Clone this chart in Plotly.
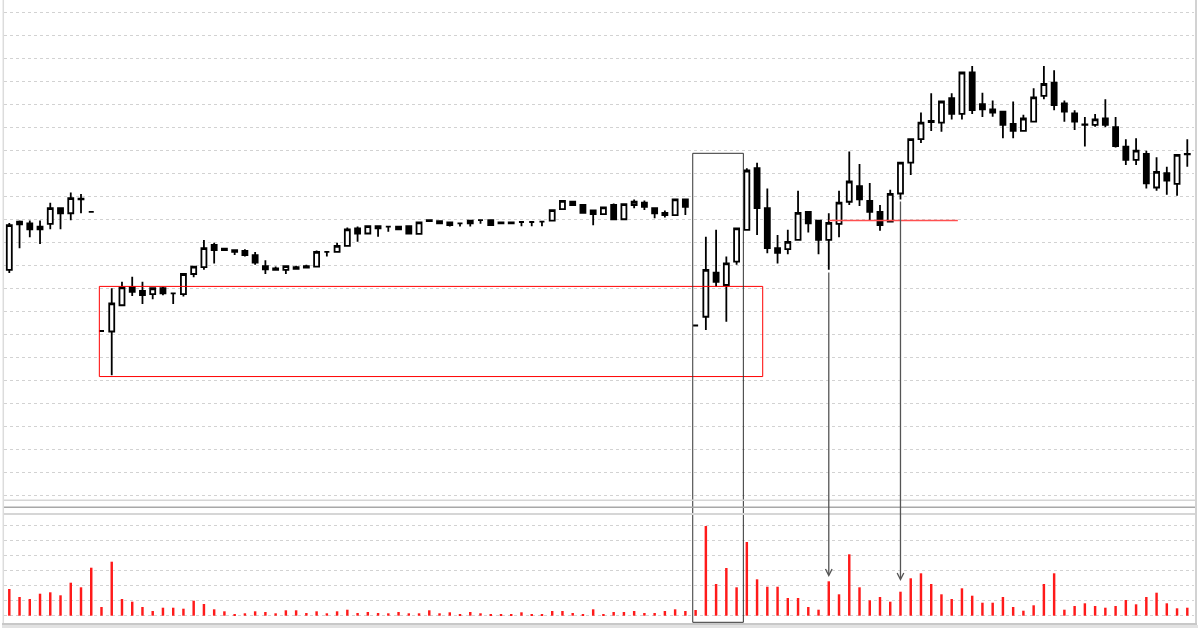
import plotly.graph_objects as go

# ---------------- data ----------------
idx = list(range(116))

open_ = [9.91, 10.90, 10.92, 10.79, 10.91, 11.25, 11.14, 11.44, 11.17, 8.58,
         8.57, 9.14, 9.54, 9.45, 9.38, 9.51, 9.40, 9.38, 9.82, 9.97,
         10.45, 10.37, 10.34, 10.32, 10.23, 9.99, 9.94, 9.91, 9.97, 9.99,
         9.98, 10.30, 10.30, 10.43, 10.81, 10.70, 10.81, 10.85, 10.85, 10.86,
         10.69, 10.99, 10.97, 10.94, 10.92, 10.92, 10.99, 10.99, 10.94, 10.94,
         10.95, 10.95, 10.96, 10.98, 11.23, 11.39, 11.32, 11.20, 11.12, 11.32,
         11.01, 11.32, 11.37, 11.25, 11.15, 11.10, 11.44, 8.70, 8.89, 9.85,
         9.58, 10.09, 10.78, 12.12, 11.25, 10.38, 10.36, 10.56, 11.17, 10.98,
         10.56, 10.91, 11.39, 11.73, 11.41, 11.17, 10.96, 11.57, 12.24, 12.75,
         13.12, 13.11, 13.64, 13.30, 14.20, 13.51, 13.40, 13.35, 13.08, 12.93,
         13.13, 13.69, 13.98, 13.53, 13.31, 13.06, 13.06, 13.20, 13.01, 12.59,
         12.30, 12.43, 11.70, 12.01, 11.78, 12.42]

high = [10.93, 10.98, 10.98, 10.98, 11.37, 11.25, 11.59, 11.56, 11.17, 8.58,
        9.51, 9.65, 9.76, 9.65, 9.51, 9.54, 9.40, 9.82, 9.98, 10.56,
        10.50, 10.37, 10.34, 10.36, 10.30, 10.12, 9.98, 9.99, 10.00, 10.02,
        10.33, 10.30, 10.50, 10.83, 10.85, 10.86, 10.86, 10.85, 10.85, 10.86,
        10.94, 10.99, 10.97, 10.94, 10.92, 10.98, 10.99, 10.99, 10.94, 10.94,
        10.95, 10.95, 10.96, 11.21, 11.41, 11.41, 11.32, 11.20, 11.27, 11.35,
        11.34, 11.44, 11.42, 11.25, 11.20, 11.44, 11.44, 8.70, 10.63, 10.78,
        10.20, 10.81, 12.12, 12.24, 11.68, 10.67, 10.78, 11.63, 11.17, 10.98,
        11.14, 11.63, 12.48, 12.21, 11.80, 11.32, 11.65, 12.24, 12.75, 13.33,
        13.75, 13.57, 13.75, 14.20, 14.34, 13.76, 13.59, 13.35, 13.57, 13.28,
        13.86, 14.34, 14.25, 13.59, 13.38, 13.23, 13.30, 13.62, 13.23, 12.75,
        12.77, 12.50, 12.36, 12.15, 12.41, 12.75]

low = [9.84, 10.38, 10.62, 10.47, 10.79, 10.79, 10.99, 11.14, 11.17, 8.58,
       7.62, 9.14, 9.34, 9.17, 9.27, 9.36, 9.17, 9.33, 9.75, 9.91,
       10.05, 10.34, 10.23, 10.20, 10.02, 9.82, 9.91, 9.82, 9.91, 9.94,
       9.98, 10.20, 10.28, 10.41, 10.52, 10.70, 10.63, 10.74, 10.79, 10.70,
       10.69, 10.97, 10.92, 10.85, 10.85, 10.85, 10.91, 10.88, 10.92, 10.92,
       10.86, 10.86, 10.86, 10.98, 11.23, 11.32, 11.15, 10.88, 11.12, 11.01,
       11.01, 11.25, 11.21, 11.03, 11.05, 11.10, 11.10, 8.70, 8.60, 9.54,
       8.78, 10.02, 10.78, 10.67, 10.27, 10.05, 10.25, 10.56, 10.72, 10.25,
       9.91, 10.62, 11.32, 11.30, 10.98, 10.76, 10.96, 11.44, 11.97, 12.67,
       12.93, 12.91, 13.18, 13.18, 13.30, 13.23, 13.24, 12.77, 12.77, 12.93,
       13.13, 13.62, 13.38, 13.13, 12.95, 12.59, 13.02, 13.01, 12.57, 12.19,
       12.19, 11.68, 11.63, 11.54, 11.52, 12.15]

close = [10.88, 10.96, 10.79, 10.85, 11.25, 11.14, 11.47, 11.46, 11.17, 8.58,
         9.18, 9.53, 9.43, 9.36, 9.51, 9.40, 9.40, 9.82, 9.98, 10.38,
         10.34, 10.34, 10.30, 10.23, 10.07, 9.92, 9.91, 9.99, 9.93, 9.96,
         10.30, 10.30, 10.43, 10.79, 10.70, 10.86, 10.86, 10.85, 10.79, 10.70,
         10.94, 10.97, 10.92, 10.88, 10.92, 10.98, 10.99, 10.88, 10.92, 10.92,
         10.95, 10.95, 10.96, 11.21, 11.41, 11.32, 11.15, 11.12, 11.27, 11.01,
         11.34, 11.39, 11.28, 11.14, 11.10, 11.44, 11.28, 8.70, 9.91, 9.65,
         10.05, 10.81, 12.07, 11.25, 10.38, 10.28, 10.52, 11.15, 10.92, 10.56,
         10.93, 11.37, 11.83, 11.44, 11.17, 10.88, 11.56, 12.24, 12.75, 13.11,
         13.15, 13.57, 13.30, 14.20, 13.38, 13.40, 13.33, 13.06, 12.93, 13.20,
         13.66, 13.95, 13.49, 13.35, 13.13, 13.07, 13.18, 13.06, 12.60, 12.30,
         12.50, 11.79, 12.04, 11.85, 12.41, 12.43]

volume = [2670, 1870, 1670, 2200, 2340, 2040, 3300, 2840, 4800, 870,
          5400, 1670, 1400, 870, 470, 800, 800, 700, 1500, 1170,
          640, 440, 170, 240, 440, 370, 240, 540, 540, 270,
          440, 240, 440, 600, 270, 370, 270, 240, 370, 240,
          240, 540, 240, 340, 170, 370, 240, 170, 140, 140,
          340, 170, 170, 470, 470, 270, 140, 640, 170, 370,
          370, 470, 270, 270, 470, 640, 470, 570, 8970, 3170,
          4770, 2840, 7370, 3640, 2900, 2900, 1770, 1770, 870, 600,
          3440, 2140, 6140, 2840, 1540, 1870, 1400, 2400, 3740, 4240,
          3170, 2140, 1670, 2740, 2000, 1300, 1300, 1870, 870, 500,
          1040, 3170, 4240, 600, 970, 1240, 970, 800, 970, 1570,
          1140, 1870, 2300, 1240, 740, 800]

# annotation anchors (data space)
box_red = dict(x0=8.79, x1=73.55, y0=7.59, y1=9.55)
box_black_x = (66.72, 71.66)
level_line = dict(x0=80, x1=92.6, y=10.98)
arrow_idx = [80, 87]

# ---------------- layout helpers ----------------
W, H = 1200, 631
ML, MR = 4, 6


def pxx(px):
    return (px - ML) / (W - ML - MR)


def pxy(py):
    return (H - py) / H


GRID = "#d2d2d2"

fig = go.Figure()
fig.add_trace(go.Candlestick(
    x=idx, open=open_, high=high, low=low, close=close,
    increasing=dict(line=dict(color="#000000", width=1.8), fillcolor="#ffffff"),
    decreasing=dict(line=dict(color="#000000", width=1.8), fillcolor="#000000"),
    whiskerwidth=0, xaxis="x", yaxis="y", hoverinfo="skip", showlegend=False,
))
fig.add_trace(go.Bar(
    x=idx, y=volume, width=0.24, marker=dict(color="#ff1a1a", line=dict(width=0)),
    xaxis="x", yaxis="y2", hoverinfo="skip", showlegend=False,
))

shapes = []
# red rectangle
shapes.append(dict(type="rect", xref="x", yref="y", line=dict(color="#ff0000", width=1),
                   fillcolor="rgba(0,0,0,0)", **box_red))
# black rectangle spanning both panels
shapes.append(dict(type="rect", xref="x", yref="paper", x0=box_black_x[0], x1=box_black_x[1],
                   y0=pxy(622.3), y1=pxy(153.3), line=dict(color="#333333", width=1),
                   fillcolor="rgba(0,0,0,0)"))
# red level line
shapes.append(dict(type="line", xref="x", yref="y", x0=level_line["x0"], x1=level_line["x1"],
                   y0=level_line["y"], y1=level_line["y"], line=dict(color="#ff5050", width=1.5)))
# panel separators
for py, col, w in [(500.3, "#d6d6d6", 1.5), (507.3, "#a8a8a8", 1.5), (514.0, "#d6d6d6", 2)]:
    shapes.append(dict(type="line", xref="paper", yref="paper", x0=pxx(3), x1=pxx(1196),
                       y0=pxy(py), y1=pxy(py), line=dict(color=col, width=w)))
# card frame / shadow
shapes.append(dict(type="line", xref="paper", yref="paper", x0=pxx(3.3), x1=pxx(3.3),
                   y0=pxy(0), y1=pxy(623), line=dict(color="#dcdcdc", width=1.5)))
shapes.append(dict(type="line", xref="paper", yref="paper", x0=pxx(1196), x1=pxx(1196),
                   y0=pxy(0), y1=pxy(624), line=dict(color="#d2d2d2", width=2)))
shapes.append(dict(type="line", xref="paper", yref="paper", x0=pxx(2), x1=pxx(1197),
                   y0=pxy(624), y1=pxy(624), line=dict(color="#c8c8c8", width=2)))
shapes.append(dict(type="line", xref="paper", yref="paper", x0=pxx(2), x1=pxx(1198),
                   y0=pxy(626.5), y1=pxy(626.5), line=dict(color="#e2e2e2", width=3)))

annotations = []
for i, (tail, head) in zip(arrow_idx, [(271, 577), (200, 581)]):
    annotations.append(dict(
        x=i, y=pxy(head), xref="x", yref="paper",
        ax=0, ay=tail - head, axref="pixel", ayref="pixel",
        text="", showarrow=True, arrowhead=5, arrowsize=1, arrowwidth=1.3,
        arrowcolor="#555555", standoff=0, startstandoff=0,
    ))

slope = 1178 / 115
x_lo = (ML - 9.3) / slope
x_hi = (W - MR - 9.3) / slope

fig.update_layout(
    width=W, height=H,
    margin=dict(l=ML, r=MR, t=0, b=0),
    paper_bgcolor="#ffffff", plot_bgcolor="#ffffff",
    showlegend=False, hovermode=False,
    shapes=shapes, annotations=annotations,
    xaxis=dict(range=[x_lo, x_hi], showgrid=False, showticklabels=False, zeroline=False,
               showline=False, ticks="", rangeslider=dict(visible=False), anchor="y2"),
    yaxis=dict(domain=[pxy(500), 1], range=[(725.7 - 500) / 46, 725.7 / 46], tick0=5, dtick=0.5,
               showgrid=True, gridcolor=GRID, griddash="3px,3px", gridwidth=1,
               showticklabels=False, zeroline=False, showline=False, ticks=""),
    yaxis2=dict(domain=[pxy(622), pxy(514)], range=[-630, 10170], tick0=0, dtick=1500,
                showgrid=True, gridcolor=GRID, griddash="3px,3px", gridwidth=1,
                showticklabels=False, zeroline=False, showline=False, ticks=""),
)

fig.write_html(
    "out.html",
    config={"displayModeBar": False},
    post_script="document.body.style.margin='0';document.body.style.overflow='hidden';",
)
